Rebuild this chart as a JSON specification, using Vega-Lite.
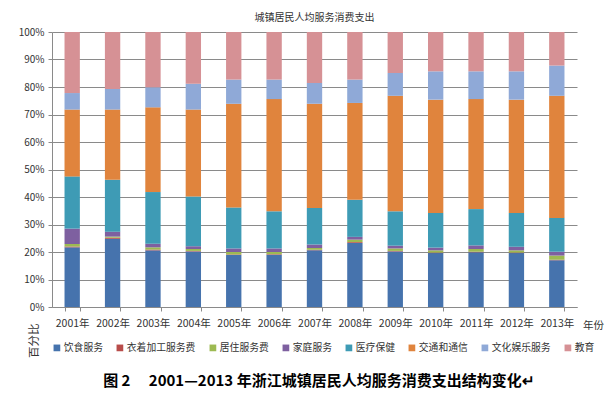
{
  "$schema": "https://vega.github.io/schema/vega-lite/v6.json",
  "background": "white",
  "padding": {"left": 18, "top": 13, "right": 5, "bottom": 5},
  "title": {
    "text": "图 2\u3000 2001—2013 年浙江城镇居民人均服务消费支出结构变化↵",
    "orient": "bottom",
    "anchor": "start",
    "font": "Noto Sans CJK SC",
    "fontSize": 15,
    "fontWeight": "bold",
    "color": "#000000",
    "offset": 17,
    "dx": 85
  },
  "vconcat": [
    {
      "title": {
        "text": "城镇居民人均服务消费支出",
        "font": "Noto Sans CJK SC",
        "fontSize": 10,
        "fontWeight": "normal",
        "color": "#333333",
        "offset": 4
      },
      "width": 525,
      "height": 275,
      "data": {
        "values": [
          {"year": "2001年", "cat": "饮食服务", "k": 1, "v": 21.7},
          {"year": "2001年", "cat": "衣着加工服务费", "k": 2, "v": 0.3},
          {"year": "2001年", "cat": "居住服务费", "k": 3, "v": 0.9},
          {"year": "2001年", "cat": "家庭服务", "k": 4, "v": 5.6},
          {"year": "2001年", "cat": "医疗保健", "k": 5, "v": 19.0},
          {"year": "2001年", "cat": "交通和通信", "k": 6, "v": 24.3},
          {"year": "2001年", "cat": "文化娱乐服务", "k": 7, "v": 6.0},
          {"year": "2001年", "cat": "教育", "k": 8, "v": 22.2},
          {"year": "2002年", "cat": "饮食服务", "k": 1, "v": 24.8},
          {"year": "2002年", "cat": "衣着加工服务费", "k": 2, "v": 0.4},
          {"year": "2002年", "cat": "居住服务费", "k": 3, "v": 0.4},
          {"year": "2002年", "cat": "家庭服务", "k": 4, "v": 1.8},
          {"year": "2002年", "cat": "医疗保健", "k": 5, "v": 18.9},
          {"year": "2002年", "cat": "交通和通信", "k": 6, "v": 25.5},
          {"year": "2002年", "cat": "文化娱乐服务", "k": 7, "v": 7.5},
          {"year": "2002年", "cat": "教育", "k": 8, "v": 20.7},
          {"year": "2003年", "cat": "饮食服务", "k": 1, "v": 20.6},
          {"year": "2003年", "cat": "衣着加工服务费", "k": 2, "v": 0.3},
          {"year": "2003年", "cat": "居住服务费", "k": 3, "v": 0.8},
          {"year": "2003年", "cat": "家庭服务", "k": 4, "v": 1.3},
          {"year": "2003年", "cat": "医疗保健", "k": 5, "v": 18.8},
          {"year": "2003年", "cat": "交通和通信", "k": 6, "v": 30.8},
          {"year": "2003年", "cat": "文化娱乐服务", "k": 7, "v": 7.3},
          {"year": "2003年", "cat": "教育", "k": 8, "v": 20.1},
          {"year": "2004年", "cat": "饮食服务", "k": 1, "v": 20.2},
          {"year": "2004年", "cat": "衣着加工服务费", "k": 2, "v": 0.2},
          {"year": "2004年", "cat": "居住服务费", "k": 3, "v": 0.7},
          {"year": "2004年", "cat": "家庭服务", "k": 4, "v": 1.0},
          {"year": "2004年", "cat": "医疗保健", "k": 5, "v": 18.1},
          {"year": "2004年", "cat": "交通和通信", "k": 6, "v": 31.6},
          {"year": "2004年", "cat": "文化娱乐服务", "k": 7, "v": 9.4},
          {"year": "2004年", "cat": "教育", "k": 8, "v": 18.8},
          {"year": "2005年", "cat": "饮食服务", "k": 1, "v": 18.9},
          {"year": "2005年", "cat": "衣着加工服务费", "k": 2, "v": 0.2},
          {"year": "2005年", "cat": "居住服务费", "k": 3, "v": 0.9},
          {"year": "2005年", "cat": "家庭服务", "k": 4, "v": 1.3},
          {"year": "2005年", "cat": "医疗保健", "k": 5, "v": 14.9},
          {"year": "2005年", "cat": "交通和通信", "k": 6, "v": 37.7},
          {"year": "2005年", "cat": "文化娱乐服务", "k": 7, "v": 8.8},
          {"year": "2005年", "cat": "教育", "k": 8, "v": 17.3},
          {"year": "2006年", "cat": "饮食服务", "k": 1, "v": 19.0},
          {"year": "2006年", "cat": "衣着加工服务费", "k": 2, "v": 0.2},
          {"year": "2006年", "cat": "居住服务费", "k": 3, "v": 0.8},
          {"year": "2006年", "cat": "家庭服务", "k": 4, "v": 1.3},
          {"year": "2006年", "cat": "医疗保健", "k": 5, "v": 13.5},
          {"year": "2006年", "cat": "交通和通信", "k": 6, "v": 40.8},
          {"year": "2006年", "cat": "文化娱乐服务", "k": 7, "v": 7.1},
          {"year": "2006年", "cat": "教育", "k": 8, "v": 17.3},
          {"year": "2007年", "cat": "饮食服务", "k": 1, "v": 20.6},
          {"year": "2007年", "cat": "衣着加工服务费", "k": 2, "v": 0.2},
          {"year": "2007年", "cat": "居住服务费", "k": 3, "v": 0.7},
          {"year": "2007年", "cat": "家庭服务", "k": 4, "v": 1.2},
          {"year": "2007年", "cat": "医疗保健", "k": 5, "v": 13.3},
          {"year": "2007年", "cat": "交通和通信", "k": 6, "v": 37.9},
          {"year": "2007年", "cat": "文化娱乐服务", "k": 7, "v": 7.6},
          {"year": "2007年", "cat": "教育", "k": 8, "v": 18.5},
          {"year": "2008年", "cat": "饮食服务", "k": 1, "v": 23.3},
          {"year": "2008年", "cat": "衣着加工服务费", "k": 2, "v": 0.3},
          {"year": "2008年", "cat": "居住服务费", "k": 3, "v": 0.9},
          {"year": "2008年", "cat": "家庭服务", "k": 4, "v": 1.0},
          {"year": "2008年", "cat": "医疗保健", "k": 5, "v": 13.5},
          {"year": "2008年", "cat": "交通和通信", "k": 6, "v": 35.2},
          {"year": "2008年", "cat": "文化娱乐服务", "k": 7, "v": 8.5},
          {"year": "2008年", "cat": "教育", "k": 8, "v": 17.3},
          {"year": "2009年", "cat": "饮食服务", "k": 1, "v": 20.2},
          {"year": "2009年", "cat": "衣着加工服务费", "k": 2, "v": 0.2},
          {"year": "2009年", "cat": "居住服务费", "k": 3, "v": 0.9},
          {"year": "2009年", "cat": "家庭服务", "k": 4, "v": 1.0},
          {"year": "2009年", "cat": "医疗保健", "k": 5, "v": 12.5},
          {"year": "2009年", "cat": "交通和通信", "k": 6, "v": 42.0},
          {"year": "2009年", "cat": "文化娱乐服务", "k": 7, "v": 8.3},
          {"year": "2009年", "cat": "教育", "k": 8, "v": 14.9},
          {"year": "2010年", "cat": "饮食服务", "k": 1, "v": 19.6},
          {"year": "2010年", "cat": "衣着加工服务费", "k": 2, "v": 0.2},
          {"year": "2010年", "cat": "居住服务费", "k": 3, "v": 0.8},
          {"year": "2010年", "cat": "家庭服务", "k": 4, "v": 1.0},
          {"year": "2010年", "cat": "医疗保健", "k": 5, "v": 12.6},
          {"year": "2010年", "cat": "交通和通信", "k": 6, "v": 41.2},
          {"year": "2010年", "cat": "文化娱乐服务", "k": 7, "v": 10.3},
          {"year": "2010年", "cat": "教育", "k": 8, "v": 14.3},
          {"year": "2011年", "cat": "饮食服务", "k": 1, "v": 19.9},
          {"year": "2011年", "cat": "衣着加工服务费", "k": 2, "v": 0.2},
          {"year": "2011年", "cat": "居住服务费", "k": 3, "v": 1.0},
          {"year": "2011年", "cat": "家庭服务", "k": 4, "v": 1.3},
          {"year": "2011年", "cat": "医疗保健", "k": 5, "v": 13.2},
          {"year": "2011年", "cat": "交通和通信", "k": 6, "v": 40.0},
          {"year": "2011年", "cat": "文化娱乐服务", "k": 7, "v": 10.1},
          {"year": "2011年", "cat": "教育", "k": 8, "v": 14.3},
          {"year": "2012年", "cat": "饮食服务", "k": 1, "v": 19.6},
          {"year": "2012年", "cat": "衣着加工服务费", "k": 2, "v": 0.2},
          {"year": "2012年", "cat": "居住服务费", "k": 3, "v": 0.8},
          {"year": "2012年", "cat": "家庭服务", "k": 4, "v": 1.3},
          {"year": "2012年", "cat": "医疗保健", "k": 5, "v": 12.3},
          {"year": "2012年", "cat": "交通和通信", "k": 6, "v": 41.2},
          {"year": "2012年", "cat": "文化娱乐服务", "k": 7, "v": 10.3},
          {"year": "2012年", "cat": "教育", "k": 8, "v": 14.3},
          {"year": "2013年", "cat": "饮食服务", "k": 1, "v": 17.0},
          {"year": "2013年", "cat": "衣着加工服务费", "k": 2, "v": 0.2},
          {"year": "2013年", "cat": "居住服务费", "k": 3, "v": 1.5},
          {"year": "2013年", "cat": "家庭服务", "k": 4, "v": 1.4},
          {"year": "2013年", "cat": "医疗保健", "k": 5, "v": 12.3},
          {"year": "2013年", "cat": "交通和通信", "k": 6, "v": 44.4},
          {"year": "2013年", "cat": "文化娱乐服务", "k": 7, "v": 11.0},
          {"year": "2013年", "cat": "教育", "k": 8, "v": 12.2}
        ]
      },
      "mark": {"type": "bar"},
      "encoding": {
        "x": {
          "field": "year",
          "type": "nominal",
          "sort": null,
          "scale": {"paddingInner": 0.62, "paddingOuter": 0.31},
          "axis": {
            "title": "年份",
            "titleX": 541,
            "titleY": 18,
            "titleAlign": "center",
            "titleBaseline": "middle",
            "titleFont": "Noto Sans CJK SC",
            "titleFontSize": 10.5,
            "titleFontWeight": "normal",
            "titleColor": "#333333",
            "labelAngle": 0,
            "labelFont": "Noto Sans CJK SC",
            "labelFontSize": 10.5,
            "labelColor": "#333333",
            "labelPadding": 7,
            "tickBand": "extent",
            "tickSize": 4,
            "tickColor": "#8a8a8a",
            "domainColor": "#8a8a8a",
            "grid": false
          }
        },
        "y": {
          "field": "v",
          "type": "quantitative",
          "stack": "normalize",
          "scale": {"domain": [0, 1]},
          "axis": {
            "title": "百分比",
            "titleX": -18,
            "titleY": 291,
            "titleAngle": -90,
            "titleAlign": "right",
            "titleBaseline": "middle",
            "titleFont": "Noto Sans CJK SC",
            "titleFontSize": 11.5,
            "titleFontWeight": "normal",
            "titleColor": "#333333",
            "format": ".0%",
            "values": [0, 0.1, 0.2, 0.3, 0.4, 0.5, 0.6, 0.7, 0.8, 0.9, 1],
            "labelFont": "Noto Sans CJK SC",
            "labelFontSize": 10,
            "labelColor": "#333333",
            "labelPadding": 4,
            "tickSize": 4,
            "tickColor": "#8a8a8a",
            "domainColor": "#8a8a8a",
            "gridColor": "#8a8a8a",
            "gridOpacity": 1
          }
        },
        "color": {
          "field": "cat",
          "type": "nominal",
          "scale": {
            "domain": ["饮食服务", "衣着加工服务费", "居住服务费", "家庭服务", "医疗保健", "交通和通信", "文化娱乐服务", "教育"],
            "range": ["#4673AD", "#B84C4A", "#9DBA52", "#7E60A0", "#3E9BB5", "#E0843D", "#8FA9D7", "#D69195"]
          },
          "legend": {
            "title": null,
            "orient": "bottom",
            "direction": "horizontal",
            "columns": 8,
            "gridAlign": "none",
            "offset": -15,
            "symbolType": "square",
            "symbolSize": 45,
            "symbolStrokeWidth": 0,
            "symbolOpacity": 1,
            "labelFont": "Noto Sans CJK SC",
            "labelFontSize": 9.8,
            "labelColor": "#333333",
            "labelOffset": 2,
            "columnPadding": 12
          }
        },
        "order": {"field": "k", "type": "quantitative", "sort": "ascending"}
      }
    }
  ],
  "config": {
    "view": {"stroke": null},
    "axis": {"gridWidth": 1}
  }
}
